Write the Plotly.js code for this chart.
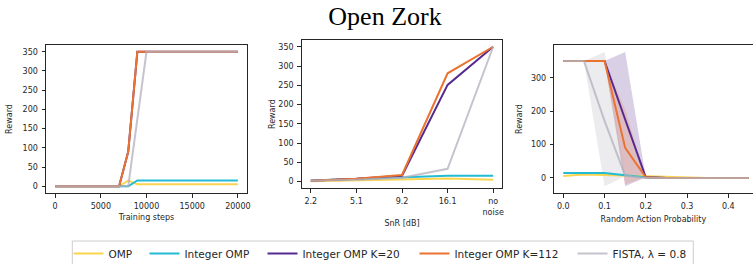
<!DOCTYPE html>
<html><head><meta charset="utf-8">
<script src="https://cdn.plot.ly/plotly-3.0.1.min.js"></script>
<style>html,body{margin:0;padding:0;background:#fff}#chart{width:753px;height:264px}</style>
</head><body><div id="chart"></div>
<script>
// ---- data ----
const seriesNames = ['OMP', 'Integer OMP', 'Integer OMP K=20', 'Integer OMP K=112', 'FISTA, λ = 0.8'];

// Panel 1: reward vs training steps
const steps = [0,1000,2000,3000,4000,5000,6000,7000,8000,9000,10000,11000,12000,13000,14000,15000,16000,17000,18000,19000,20000];
const omp1   = [0,0,0,0,0,0,0,0,15,5,5,5,5,5,5,5,5,5,5,5,5];
const int1   = [0,0,0,0,0,0,0,0,0,15,15,15,15,15,15,15,15,15,15,15,15];
const k20_1  = [0,0,0,0,0,0,0,0,90,350,350,350,350,350,350,350,350,350,350,350,350];
const k112_1 = [0,0,0,0,0,0,0,0,90,350,350,350,350,350,350,350,350,350,350,350,350];
const fista1 = [0,0,0,0,0,0,0,0,0,175,350,350,350,350,350,350,350,350,350,350,350];

// Panel 2: reward vs SnR
const snrLabels = ['2.2', '5.1', '9.2', '16.1', 'no<br>noise'];
const omp2   = [1, 3, 5, 8, 5];
const int2   = [3, 7, 12, 15, 15];
const k20_2  = [2, 7, 15, 251, 350];
const k112_2 = [2, 7, 17, 281, 350];
const fista2 = [2, 5, 10, 33, 350];

// Panel 3: reward vs random action probability
const probs  = [0, 0.05, 0.1, 0.15, 0.2, 0.25, 0.3, 0.35, 0.4, 0.45];
const omp3   = [6, 10, 9, 7, 5, 4, 1, 0, 0, 0];
const int3   = [15, 15, 15, 8, 2, 0, 0, 0, 0, 0];
const k20_3  = [350, 350, 350, 175, 2, 0, 0, 0, 0, 0];
const k112_3 = [350, 350, 350, 90, 2, 0, 0, 0, 0, 0];
const fista3 = [350, 350, 171, 7, 0, 0, 0, 0, 0, 0];
// confidence bands (panel 3)
const k20Lo3   = [350, 350, 350, -25, 2, 0, 0, 0, 0, 0];
const k20Hi3   = [350, 350, 350, 377, 2, 0, 0, 0, 0, 0];
const k112Lo3  = [350, 350, 350, -20, 2, 0, 0, 0, 0, 0];
const k112Hi3  = [350, 350, 350, 205, 2, 0, 0, 0, 0, 0];
const fistaLo3 = [350, 350, -25, 5, 0, 0, 0, 0, 0, 0];
const fistaHi3 = [350, 350, 377, 9, 0, 0, 0, 0, 0, 0];

const ticks1 = [0, 5000, 10000, 15000, 20000];
const ticksY12 = [0, 50, 100, 150, 200, 250, 300, 350];
const ticks3 = [0, 0.1, 0.2, 0.3, 0.4];
const ticksY3 = [0, 100, 200, 300];

// ---- style ----
const colors = ['#fbd44f', '#22bcd4', '#562a8f', '#ea7331', '#b2b0bd'];
const lineOpacity = [1, 1, 1, 1, 0.75];
const legendWidths = [31, 73, 107, 113, 90];
const bandColors = {k20: 'rgba(86,42,143,0.22)', k112: 'rgba(234,115,49,0.2)', fista: 'rgba(178,176,189,0.25)'};

const traces = [];
function band(xs, lo, hi, fill, xa, ya) {
  traces.push({
    x: xs.concat(xs.slice().reverse()),
    y: hi.concat(lo.slice().reverse()),
    fill: 'toself', fillcolor: fill, mode: 'lines', line: {width: 0},
    xaxis: xa, yaxis: ya, showlegend: false, hoverinfo: 'skip'
  });
}
band(probs, k20Lo3, k20Hi3, bandColors.k20, 'x3', 'y3');
band(probs, k112Lo3, k112Hi3, bandColors.k112, 'x3', 'y3');
band(probs, fistaLo3, fistaHi3, bandColors.fista, 'x3', 'y3');

const panels = [
  {x: steps, ys: [omp1, int1, k20_1, k112_1, fista1], xa: 'x', ya: 'y', legend: true},
  {x: snrLabels, ys: [omp2, int2, k20_2, k112_2, fista2], xa: 'x2', ya: 'y2', legend: false},
  {x: probs, ys: [omp3, int3, k20_3, k112_3, fista3], xa: 'x3', ya: 'y3', legend: false}
];
panels.forEach(p => {
  p.ys.forEach((y, i) => {
    const t = {
      x: p.x, y: y, mode: 'lines', name: seriesNames[i],
      line: {color: colors[i], width: 2}, opacity: lineOpacity[i],
      xaxis: p.xa, yaxis: p.ya, showlegend: p.legend, hoverinfo: 'skip'
    };
    if (p.legend) t.legendwidth = legendWidths[i];
    traces.push(t);
  });
});

const ink = '#262626';
const tf = {family: 'DejaVu Sans', size: 8, color: ink};
function ax(extra) {
  return Object.assign({
    showline: true, mirror: true, linecolor: ink, linewidth: 1,
    ticks: 'outside', ticklen: 3.5, tickwidth: 1, tickcolor: ink,
    showgrid: false, zeroline: false, tickfont: tf, ticklabelstandoff: 2, automargin: false
  }, extra);
}
const W = 753, H = 264;
const layout = {
  width: W, height: H,
  margin: {l: 0, r: 0, t: 0, b: 0, autoexpand: false},
  paper_bgcolor: '#fff', plot_bgcolor: '#fff',
  title: {text: 'Open Zork', font: {family: 'Liberation Serif', size: 26, color: '#000'},
          x: 385 / W, xref: 'container', xanchor: 'center', y: 1 - 16 / H, yref: 'container', yanchor: 'middle'},
  xaxis: ax({domain: [46 / W, 247 / W], range: [-1000, 21000], tickvals: ticks1, tickformat: 'd', anchor: 'y',
             title: {text: 'Training steps', font: tf, standoff: 4}}),
  yaxis: ax({domain: [1 - 193 / H, 1 - 45 / H], range: [-17.5, 367.5], tickvals: ticksY12, anchor: 'x',
             title: {text: 'Reward', font: tf, standoff: 8}}),
  xaxis2: ax({domain: [301.7 / W, 502.3 / W], type: 'category', categoryarray: snrLabels, range: [-0.2, 4.2], anchor: 'y2',
              title: {text: 'SnR [dB]', font: tf, standoff: 4}}),
  yaxis2: ax({domain: [1 - 188.3 / H, 1 - 40 / H], range: [-17.5, 367.5], tickvals: ticksY12, anchor: 'x2',
              title: {text: 'Reward', font: tf, standoff: 1}}),
  xaxis3: ax({domain: [554.3 / W, 752.5 / W], range: [-0.0218, 0.4587], tickvals: ticks3, tickformat: '.1f', anchor: 'y3',
              title: {text: 'Random Action Probability', font: tf, standoff: 5}}),
  yaxis3: ax({domain: [1 - 193.3 / H, 1 - 45 / H], range: [-46, 398], tickvals: ticksY3, anchor: 'x3',
              title: {text: 'Reward', font: tf, standoff: 7}}),
  showlegend: true,
  legend: {orientation: 'h', x: 68.5 / W, xref: 'container', xanchor: 'left', y: 1 - 239 / H, yref: 'container', yanchor: 'top',
           bgcolor: 'rgba(0,0,0,0)', borderwidth: 0,
           font: {family: 'DejaVu Sans', size: 10.5, color: ink}},
  shapes: [{type: 'rect', xref: 'paper', yref: 'paper', x0: 72.3 / W, x1: 693.3 / W, y0: -0.1, y1: 1 - 241 / H,
            line: {color: '#cccccc', width: 1}, fillcolor: '#ffffff', layer: 'below'}]
};
Plotly.newPlot('chart', traces, layout, {staticPlot: true, displayModeBar: false});
</script></body></html>
